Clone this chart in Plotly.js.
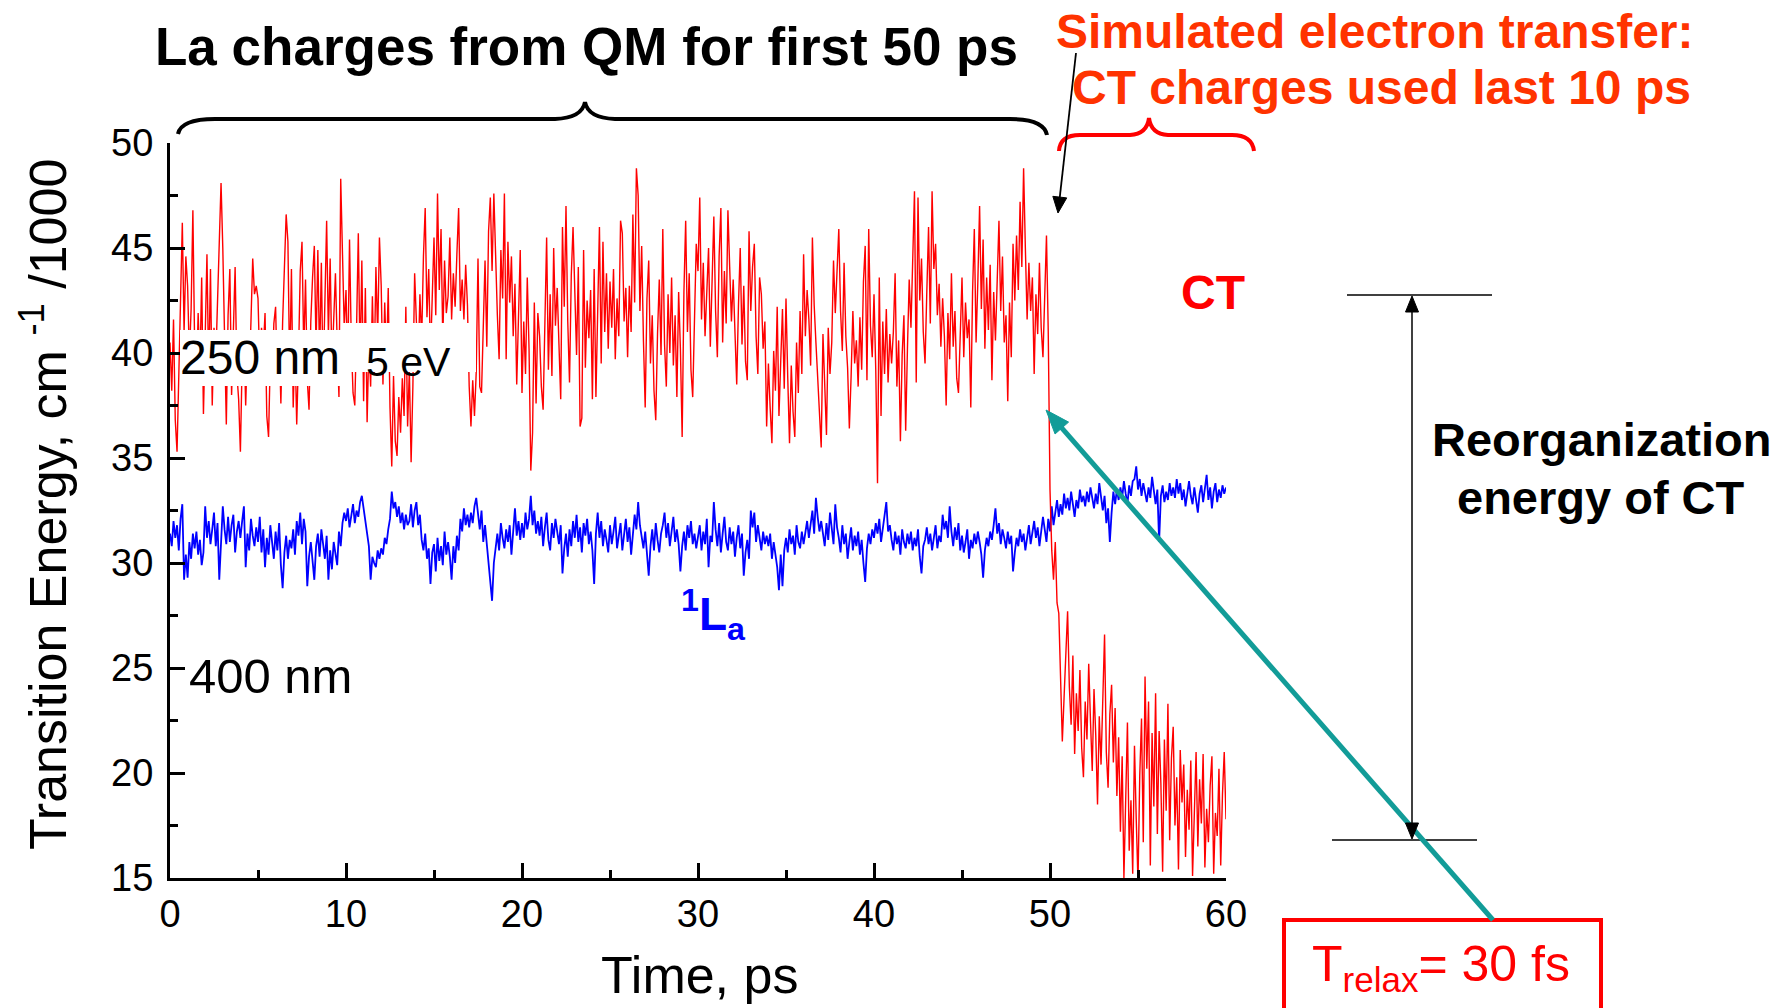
<!DOCTYPE html>
<html>
<head>
<meta charset="utf-8">
<script src="https://cdn.plot.ly/plotly-3.0.1.min.js"></script>
<style>
  html, body { margin: 0; padding: 0; background: #ffffff; }
  #chart { width: 1780px; height: 1008px; }
</style>
</head>
<body>
<div id="chart"></div>
<script>
// ---------------- DATA ----------------
// sampling step of both traces (ps)
const timeStepPs = 0.1;

// Transition energy (cm^-1 / 1000) of the CT state, one line per ps (0 ... 60 ps)
const ctEnergy = [
  40.5, 38.2, 41.6, 36.8, 35.3, 39.4, 42.8, 46.2, 41.0, 44.6,
  43.2, 39.8, 42.1, 46.8, 40.3, 38.6, 41.9, 39.2, 43.6, 37.1,
  40.8, 44.7, 38.9, 44.0, 37.5, 41.2, 39.6, 42.4, 45.9, 48.1,
  45.0, 40.2, 36.6, 41.8, 44.0, 38.0, 40.6, 44.1, 39.0, 37.8,
  35.3, 39.6, 41.0, 37.5, 40.4, 38.8, 41.5, 44.5, 42.8, 43.2,
  42.6, 39.4, 41.2, 40.1, 41.9, 37.0, 36.0, 39.8, 38.6, 41.4,
  42.2, 38.5, 40.9, 37.6, 41.5, 44.6, 46.6, 45.3, 39.0, 44.0,
  37.4, 40.5, 36.6, 39.8, 43.9, 45.3, 40.1, 43.5, 38.7, 37.3,
  41.5, 43.6, 45.1, 40.2, 44.9, 39.6, 44.3, 38.5, 42.7, 46.3,
  40.8, 44.5, 39.3, 42.1, 43.8, 40.5, 37.9, 48.3, 45.0, 41.2,
  43.0, 39.2, 45.4, 40.6, 38.1, 37.5, 41.2, 45.7, 39.4, 44.4,
  37.7, 43.1, 36.7, 40.5, 38.4, 42.7, 39.0, 44.1, 40.8, 45.5,
  43.2, 38.5, 42.4, 39.6, 43.1, 37.4, 34.6, 38.9, 35.8, 35.1,
  37.9, 36.2, 38.8, 37.0, 42.2, 36.5, 39.2, 34.8, 38.4, 43.8,
  41.5, 39.4, 42.8, 40.6, 44.6, 46.9, 41.7, 44.0, 39.8, 42.5,
  45.5, 41.8, 47.6, 43.0, 45.9, 40.6, 44.4, 41.9, 42.7, 45.5,
  41.6, 43.8, 42.2, 44.7, 46.9, 42.0, 43.5, 41.6, 44.2, 42.3,
  38.4, 36.5, 38.7, 37.0, 39.1, 44.5, 38.4, 38.1, 41.6, 44.4,
  40.3, 45.8, 47.4, 43.9, 47.6, 44.2, 41.8, 39.7, 44.9, 42.6,
  47.6, 39.7, 45.3, 42.4, 44.6, 40.8, 43.3, 38.5, 41.2, 44.9,
  38.1, 41.5, 39.0, 43.6, 40.2, 34.4, 36.2, 42.4, 37.6, 41.9,
  40.8, 38.4, 37.3, 41.6, 45.5, 39.2, 42.8, 38.9, 45.0, 41.3,
  43.1, 40.4, 37.8, 46.0, 42.2, 47.0, 41.5, 38.6, 43.7, 46.0,
  42.8, 39.9, 44.1, 36.5, 36.9, 44.9, 39.3, 42.5, 40.7, 43.0,
  37.8, 44.0, 37.9, 42.1, 46.0, 39.5, 45.3, 41.0, 43.8, 40.2,
  43.4, 41.2, 44.0, 39.7, 42.6, 40.8, 46.3, 45.7, 41.5, 43.1,
  39.8, 43.2, 41.0, 46.6, 42.4, 48.8, 47.5, 42.0, 45.1, 40.6,
  37.4, 42.6, 44.4, 39.5, 41.8, 38.2, 36.8, 40.9, 43.5, 39.9,
  45.9, 40.4, 38.4, 42.8, 40.0, 43.6, 39.4, 41.8, 37.9, 42.9,
  40.2, 36.0, 42.9, 46.3, 41.0, 43.8, 39.2, 37.9, 42.3, 45.2,
  43.9, 47.4, 41.6, 44.3, 40.8, 42.7, 45.0, 40.3, 43.2, 46.5,
  42.0, 39.8, 44.6, 46.9, 40.5, 43.9, 41.4, 46.8, 44.1, 41.5,
  43.5, 40.9, 38.5, 42.3, 45.0, 40.4, 43.2, 39.6, 38.7, 45.8,
  42.0, 44.1, 45.2, 40.8, 39.0, 43.6, 42.8, 40.2, 41.5, 36.5,
  39.5, 37.4, 35.7, 40.1, 38.2, 42.2, 37.0, 39.6, 42.1, 38.3,
  42.6, 38.8, 35.7, 39.4, 37.2, 36.0, 40.5, 38.1, 42.0, 39.0,
  44.7, 40.8, 43.0, 41.6, 39.4, 45.5, 42.3, 40.5, 38.8, 36.7,
  35.5, 40.9, 38.0, 36.1, 41.2, 39.0, 40.5, 44.4, 41.9, 43.6,
  45.9, 42.0, 40.1, 44.3, 40.8, 39.3, 36.4, 38.9, 42.0, 39.5,
  40.6, 38.4, 41.7, 39.2, 43.4, 45.1, 38.7, 45.9, 41.3, 39.8,
  42.8, 39.2, 33.8, 43.6, 37.0, 41.5, 39.0, 42.1, 38.6, 40.9,
  39.5, 41.0, 43.8, 38.4, 40.6, 35.8, 39.9, 41.8, 36.3, 40.2,
  43.5, 41.2, 44.8, 47.7, 38.6, 47.4, 42.5, 44.5, 41.0, 39.5,
  42.9, 46.0, 41.4, 47.7, 44.0, 45.2, 41.8, 43.3, 40.3, 42.6,
  40.8, 37.5, 41.9, 39.7, 43.8, 40.3, 42.0, 38.8, 38.1, 41.5,
  43.6, 39.8, 42.4, 40.7, 41.6, 37.4, 42.9, 45.9, 40.5, 43.4,
  47.0, 42.1, 45.4, 40.2, 43.6, 41.1, 44.2, 38.7, 42.9, 40.6,
  43.8, 46.3, 42.0, 44.6, 40.5, 41.8, 37.7, 42.4, 39.8, 45.2,
  42.5, 45.6, 43.0, 47.2, 44.1, 48.8, 45.0, 41.6, 44.3, 42.0,
  43.6, 39.0, 42.8, 40.9, 44.3, 41.2, 39.8, 42.5, 45.6, 41.0,
  33.5, 30.6, 29.2, 31.0, 28.1, 27.6, 24.8, 21.5, 23.6, 26.2,
  27.7, 24.1, 22.3, 25.6, 20.9, 23.8, 22.0, 24.9, 21.2, 19.8,
  23.4, 21.6, 25.2, 22.5, 20.1, 24.0, 21.8, 18.5, 22.7, 20.4,
  23.9, 26.6, 21.0, 19.3, 22.8, 24.2, 20.5, 23.1, 18.9, 21.7,
  17.2, 20.8, 15.0, 19.6, 22.4, 16.3, 18.7, 15.2, 21.3, 17.8,
  14.8, 19.9, 22.6, 16.7, 24.6, 20.2, 23.4, 15.6, 21.9, 18.4,
  23.8, 17.1, 22.0, 19.5, 15.3, 21.6, 18.2, 23.3, 16.8, 20.7,
  22.2, 17.5, 19.8, 15.4, 21.1, 18.6, 20.4, 16.0, 19.2, 17.3,
  20.6, 15.1, 18.8, 21.0, 16.5, 19.7, 17.6, 20.9, 15.5, 18.3,
  16.7, 19.4, 20.8, 15.2, 18.1, 17.0, 20.2, 15.6, 19.0, 21.0,
  17.8
];

// Transition energy (cm^-1 / 1000) of the 1La state, one line per ps (0 ... 60 ps)
const laEnergy = [
  31.4, 30.8, 32.0, 31.2, 31.8, 30.6, 32.1, 32.8, 29.2, 30.4,
  29.3, 31.0, 30.2, 31.4, 30.7, 31.5, 30.4, 31.1, 29.9, 30.5,
  32.7, 31.2, 32.0, 30.9, 31.6, 32.4, 30.8, 31.9, 29.2, 31.4,
  32.7, 31.6, 30.9, 32.2, 31.0, 31.8, 32.3, 30.5, 31.5, 32.0,
  31.2, 32.0, 32.7, 29.8, 31.4, 30.6, 32.1, 31.3, 30.8, 31.7,
  31.0, 32.2, 30.5, 31.6, 29.8, 31.2, 30.4, 31.8, 30.9, 30.2,
  31.5, 30.6, 31.9, 29.9, 28.8, 30.5, 31.3, 30.2, 31.1, 30.7,
  31.6, 30.4, 32.0, 31.3, 32.4, 30.9, 32.1, 31.5, 28.9, 30.3,
  31.0, 30.1, 29.2, 30.8, 31.4, 30.3, 31.6, 30.9, 30.2, 31.3,
  29.2, 30.6, 29.7, 31.0, 30.4, 29.9, 31.5, 30.8, 31.9, 32.4,
  32.0, 32.6, 31.7, 32.3, 32.8, 31.9, 32.5, 32.2, 32.9, 33.2,
  32.6, 32.0, 31.4, 30.8, 29.2, 30.3, 30.0, 29.8, 30.6, 30.2,
  30.7, 30.4, 31.2, 30.9, 31.6, 32.1, 33.4, 32.6, 32.9, 32.2,
  32.7, 31.9, 32.4, 31.6, 32.3, 31.8, 32.0, 32.8, 31.7, 32.5,
  32.9, 31.8, 32.3, 31.1, 30.6, 31.4, 30.2, 30.7, 29.0, 30.5,
  30.9, 29.6, 31.2, 30.1, 30.8, 29.9, 31.5, 30.4, 31.0, 30.3,
  29.2, 30.8, 30.0, 31.3, 30.6, 32.1, 31.5, 32.6, 31.8, 32.3,
  31.7, 32.4, 31.9, 32.7, 33.1, 32.2, 31.6, 32.5, 31.0, 31.8,
  30.9, 30.2, 29.4, 28.2, 30.0, 30.8, 31.4, 30.6, 31.9, 31.2,
  30.7, 31.6, 31.0, 31.8, 30.4, 31.5, 32.6, 31.3, 32.0, 31.1,
  31.9, 31.2, 32.4, 31.6, 32.1, 33.2, 31.8, 32.5, 31.4, 32.0,
  31.3, 32.2, 30.8, 31.7, 32.4, 31.1, 30.6, 31.9, 31.2, 32.1,
  31.5, 30.9, 31.8, 29.5, 30.7, 31.4, 30.3, 31.6, 30.8, 32.0,
  31.2, 32.3, 31.0, 31.7, 30.5, 31.9, 31.3, 32.1, 30.9, 31.5,
  30.6, 29.0, 31.4, 32.4, 31.2, 32.0, 30.8, 31.6, 31.1, 30.5,
  31.8, 30.9, 31.5, 32.2, 30.7, 31.3, 31.9, 30.6, 31.4, 32.1,
  31.0, 31.7, 30.4, 31.2, 32.3, 31.6, 32.9, 31.8, 31.3, 30.7,
  31.5, 30.3, 29.4, 30.8, 31.6, 30.6, 31.9, 31.1, 30.5, 31.4,
  31.8, 32.4, 31.2, 31.9, 30.8, 31.5, 32.2, 31.0, 31.6, 30.9,
  29.6, 30.8, 31.5, 30.6, 31.8, 31.2, 32.0, 30.9, 31.4, 30.7,
  31.2, 31.8, 30.6, 31.5, 30.9, 32.1, 29.8, 31.3, 31.0, 32.9,
  31.6, 30.8, 31.9, 30.5, 31.4, 32.2, 31.0, 30.6, 31.7, 30.9,
  31.5, 30.3, 31.2, 31.8, 30.7, 31.4, 29.4, 30.5, 31.1, 30.2,
  32.5, 31.7, 32.4, 31.0, 31.8, 31.2, 30.6, 31.5, 30.9, 31.3,
  30.8, 31.4, 30.2, 31.0, 30.5, 29.8, 28.7, 30.4, 28.9, 30.6,
  31.2, 30.5, 31.6, 30.9, 31.3, 30.4, 31.8, 31.0, 30.7, 31.5,
  30.9, 31.6, 32.0, 31.2, 31.8, 32.5, 31.4, 33.1, 32.2, 31.5,
  32.0, 31.3, 30.8, 31.9, 31.1, 32.4, 31.6, 30.9, 32.8, 31.7,
  31.2, 30.5, 31.8, 30.9, 31.4, 30.2, 31.0, 31.7, 30.6, 31.3,
  30.8, 31.5, 30.4, 31.1, 30.0, 29.1, 30.7, 31.4, 30.9, 31.6,
  31.2, 31.9, 31.4, 32.1, 31.0, 31.7, 32.4, 32.9, 31.5, 31.8,
  31.1, 30.6, 31.5, 30.9, 31.3, 30.4, 31.6, 31.0, 30.7, 31.4,
  30.9, 31.5, 30.6, 31.2, 30.8, 31.6, 30.3, 29.5, 30.8, 31.1,
  31.7, 30.9, 31.4, 30.6, 31.2, 31.8, 30.7, 31.3, 31.0, 32.3,
  31.6, 32.0, 31.2, 32.7, 31.5, 30.8, 31.7, 31.1, 31.9, 30.6,
  31.3, 30.5, 31.0, 31.6, 30.2, 31.1, 30.7, 31.4, 30.9, 31.5,
  31.0, 30.4, 29.3, 30.6, 31.2, 30.8, 31.5, 31.1, 31.8, 32.6,
  31.4, 31.9, 30.9, 31.6, 31.2, 30.7, 31.5, 30.9, 31.3, 29.6,
  30.5, 31.2, 30.8, 31.6, 31.0, 31.4, 30.6, 31.1, 31.8, 30.9,
  31.5, 32.0, 31.2, 31.7, 30.8, 31.4, 32.2, 31.6, 31.0, 32.1,
  31.5, 32.7, 31.8, 32.4, 33.0, 32.2, 32.8, 32.3, 33.3, 32.6,
  33.1, 32.5, 33.4, 32.8, 32.2, 33.0, 32.6, 33.5, 32.9, 33.2,
  32.7, 33.4, 32.9, 33.6, 33.1, 32.6, 33.3, 32.8, 33.8, 33.0,
  32.5, 33.2, 31.9, 32.6, 31.0, 32.4, 33.4, 32.8, 33.5, 33.0,
  33.6, 33.1, 33.9, 33.3, 32.8, 33.7, 33.2, 33.9, 34.0, 34.6,
  33.5, 34.0, 33.2, 33.8, 33.4, 32.9, 33.6, 33.1, 34.1, 33.3,
  32.8, 33.5, 31.0, 33.2, 33.7, 32.9, 33.4, 33.0, 33.8, 33.2,
  33.6, 33.1, 34.0, 33.3, 33.8, 33.0, 33.5, 32.7, 33.4, 33.9,
  33.2, 32.8, 33.6, 33.1, 32.4, 33.3, 33.7, 32.9, 33.5, 34.2,
  33.0, 33.6, 32.6, 33.4, 33.8, 32.9, 33.5, 33.1, 33.7, 33.3,
  33.6
];

const xTickValues = [0, 10, 20, 30, 40, 50, 60];
const yTickValues = [15, 20, 25, 30, 35, 40, 45, 50];

// ---------------- GEOMETRY (pixel helpers) ----------------
const PLOT_L = 170, PLOT_R = 1226, PLOT_T = 143, PLOT_B = 878;
const PW = PLOT_R - PLOT_L, PH = PLOT_B - PLOT_T;
function px(x) { return (x - PLOT_L) / PW; }
function py(y) { return (PLOT_B - y) / PH; }
function pathPx(cmds) {
  return cmds.map(c => {
    const pts = [];
    for (let i = 1; i < c.length; i += 2) pts.push(px(c[i]) + ',' + py(c[i + 1]));
    return c[0] + pts.join(' ');
  }).join(' ');
}
// an arrow made of a line shape and a filled triangular head (pixel coordinates)
function arrowShapes(tailX, tailY, tipX, tipY, color, width, headLen, headHalf) {
  const dx = tipX - tailX, dy = tipY - tailY;
  const len = Math.sqrt(dx * dx + dy * dy);
  const ux = dx / len, uy = dy / len;
  const nx = -uy, ny = ux;
  const bx = tipX - headLen * ux, by = tipY - headLen * uy;
  const lineEndX = tipX - headLen * 0.7 * ux, lineEndY = tipY - headLen * 0.7 * uy;
  return [
    { type: 'line', xref: 'paper', yref: 'paper', layer: 'above',
      x0: px(tailX), y0: py(tailY), x1: px(lineEndX), y1: py(lineEndY),
      line: { color: color, width: width } },
    { type: 'path', xref: 'paper', yref: 'paper', layer: 'above',
      path: pathPx([['M', tipX, tipY], ['L', bx + headHalf * nx, by + headHalf * ny],
                    ['L', bx - headHalf * nx, by - headHalf * ny]]) + ' Z',
      fillcolor: color, line: { color: color, width: 1 } }
  ];
}

const timeAxis = ctEnergy.map((_, i) => +(i * timeStepPs).toFixed(2));

const FONT = 'Liberation Sans, Arial, Helvetica, sans-serif';

const traces = [
  {
    x: timeAxis, y: laEnergy, type: 'scatter', mode: 'lines',
    line: { color: '#0000ff', width: 1.8 }, hoverinfo: 'skip', showlegend: false
  },
  {
    x: timeAxis, y: ctEnergy, type: 'scatter', mode: 'lines',
    line: { color: '#ff0000', width: 1.4 }, hoverinfo: 'skip', showlegend: false
  }
];

const shapes = [
  // white masks behind the labels
  { type: 'rect', xref: 'paper', yref: 'paper', x0: px(180), x1: px(342), y0: py(386), y1: py(330),
    fillcolor: '#ffffff', line: { width: 0 }, layer: 'above' },
  { type: 'rect', xref: 'paper', yref: 'paper', x0: px(342), x1: px(476), y0: py(372), y1: py(323),
    fillcolor: '#ffffff', line: { width: 0 }, layer: 'above' },
  // black brace over 0-50 ps
  { type: 'path', xref: 'paper', yref: 'paper', layer: 'above',
    path: pathPx([['M', 178, 134], ['Q', 181, 119, 215, 119], ['L', 555, 119], ['Q', 582, 118, 585, 102],
                  ['Q', 588, 118, 615, 119], ['L', 1010, 119], ['Q', 1044, 119, 1047, 135]]),
    line: { color: '#000000', width: 4 } },
  // red brace over 50-60 ps
  { type: 'path', xref: 'paper', yref: 'paper', layer: 'above',
    path: pathPx([['M', 1059, 151], ['Q', 1060, 135, 1080, 135], ['L', 1130, 135], ['Q', 1147, 134, 1149, 118],
                  ['Q', 1151, 134, 1168, 135], ['L', 1232, 135], ['Q', 1252, 135, 1254, 151]]),
    line: { color: '#ff0000', width: 4 } },
  // horizontal level lines for the reorganization energy
  { type: 'line', xref: 'paper', yref: 'paper', x0: px(1347), x1: px(1492), y0: py(295), y1: py(295),
    line: { color: '#000000', width: 1.6 } },
  { type: 'line', xref: 'paper', yref: 'paper', x0: px(1332), x1: px(1477), y0: py(840), y1: py(840),
    line: { color: '#000000', width: 1.6 } },
  // red box around T_relax
  { type: 'rect', xref: 'paper', yref: 'paper', x0: px(1284), x1: px(1601), y0: py(1012), y1: py(920),
    line: { color: '#ff0000', width: 4 }, fillcolor: 'rgba(0,0,0,0)' }
]
  .concat(arrowShapes(1076, 53, 1058, 213, '#000000', 1.8, 16, 7))
  .concat(arrowShapes(1493, 920, 1046, 410, '#129c98', 5, 24, 9))
  .concat(arrowShapes(1412, 560, 1412, 296, '#000000', 1.5, 16, 6.5))
  .concat(arrowShapes(1412, 560, 1412, 839, '#000000', 1.5, 16, 6.5));

const annotations = [
  { text: '<b>La charges from QM for first 50 ps</b>', xref: 'paper', yref: 'paper',
    x: px(586), y: py(47), xanchor: 'center', yanchor: 'middle', showarrow: false,
    font: { family: FONT, size: 53, color: '#000000' } },
  { text: '<b>Simulated electron transfer:</b>', xref: 'paper', yref: 'paper',
    x: px(1375), y: py(31), xanchor: 'center', yanchor: 'middle', showarrow: false,
    font: { family: FONT, size: 48, color: '#ff3300' } },
  { text: '<b>CT charges used last 10 ps</b>', xref: 'paper', yref: 'paper',
    x: px(1381), y: py(88), xanchor: 'center', yanchor: 'middle', showarrow: false,
    font: { family: FONT, size: 48, color: '#ff3300' } },
  { text: '<b>CT</b>', xref: 'paper', yref: 'paper',
    x: px(1213), y: py(292), xanchor: 'center', yanchor: 'middle', showarrow: false,
    font: { family: FONT, size: 48, color: '#ff0000' } },
  { text: '<b>Reorganization</b>', xref: 'paper', yref: 'paper',
    x: px(1601), y: py(440), xanchor: 'center', yanchor: 'middle', showarrow: false,
    font: { family: FONT, size: 47, color: '#000000' } },
  { text: '<b>energy of CT</b>', xref: 'paper', yref: 'paper',
    x: px(1601), y: py(497), xanchor: 'center', yanchor: 'middle', showarrow: false,
    font: { family: FONT, size: 47, color: '#000000' } },
  { text: '250 nm', xref: 'paper', yref: 'paper',
    x: px(178), y: py(357), xanchor: 'left', yanchor: 'middle', showarrow: false,
    font: { family: FONT, size: 48, color: '#000000' } },
  { text: '5 eV', xref: 'paper', yref: 'paper',
    x: px(364), y: py(362), xanchor: 'left', yanchor: 'middle', showarrow: false,
    font: { family: FONT, size: 41, color: '#000000' } },
  { text: '400 nm', xref: 'paper', yref: 'paper',
    x: px(187), y: py(676), xanchor: 'left', yanchor: 'middle', showarrow: false,
    font: { family: FONT, size: 49, color: '#000000' } },
  { text: '<b><sup>1</sup>L<sub>a</sub></b>', xref: 'paper', yref: 'paper',
    x: px(679), y: py(614), xanchor: 'left', yanchor: 'middle', showarrow: false,
    font: { family: FONT, size: 46, color: '#0000ff' } },
  { text: 'T<sub>relax</sub>= 30 fs', xref: 'paper', yref: 'paper',
    x: px(1441), y: py(968), xanchor: 'center', yanchor: 'middle', showarrow: false,
    font: { family: FONT, size: 50, color: '#ff0000' } },
  { text: 'Transition Energy, cm <sup>-1</sup> /1000', xref: 'paper', yref: 'paper',
    x: px(44), y: py(505), xanchor: 'center', yanchor: 'middle', textangle: -90, showarrow: false,
    font: { family: FONT, size: 52, color: '#000000' } },
  { text: 'Time, ps', xref: 'paper', yref: 'paper',
    x: px(699), y: py(975), xanchor: 'center', yanchor: 'middle', showarrow: false,
    font: { family: FONT, size: 52, color: '#000000' } }
];

const layout = {
  width: 1780, height: 1008,
  margin: { l: PLOT_L, r: 1780 - PLOT_R, t: PLOT_T, b: 1008 - PLOT_B, pad: 0 },
  paper_bgcolor: '#ffffff', plot_bgcolor: '#ffffff',
  showlegend: false,
  xaxis: {
    range: [0, 60], tickvals: xTickValues, ticktext: xTickValues.map(String),
    ticks: 'inside', ticklen: 15, tickwidth: 3, tickcolor: '#000000',
    showline: true, linecolor: '#000000', linewidth: 3, mirror: false,
    showgrid: false, zeroline: false, automargin: false,
    tickfont: { family: FONT, size: 38, color: '#000000' },
    ticklabelstandoff: 0,
    minor: { dtick: 5, tick0: 0, ticks: 'inside', ticklen: 8, tickwidth: 3, tickcolor: '#000000', showgrid: false }
  },
  yaxis: {
    range: [15, 50], tickvals: yTickValues, ticktext: yTickValues.map(String),
    ticks: 'inside', ticklen: 15, tickwidth: 3, tickcolor: '#000000',
    showline: true, linecolor: '#000000', linewidth: 3, mirror: false,
    showgrid: false, zeroline: false, automargin: false,
    tickfont: { family: FONT, size: 38, color: '#000000' },
    ticklabelstandoff: 6,
    minor: { dtick: 2.5, tick0: 15, ticks: 'inside', ticklen: 8, tickwidth: 3, tickcolor: '#000000', showgrid: false }
  },
  shapes: shapes,
  annotations: annotations
};

Plotly.newPlot('chart', traces, layout, { staticPlot: true, displayModeBar: false });
</script>
</body>
</html>
